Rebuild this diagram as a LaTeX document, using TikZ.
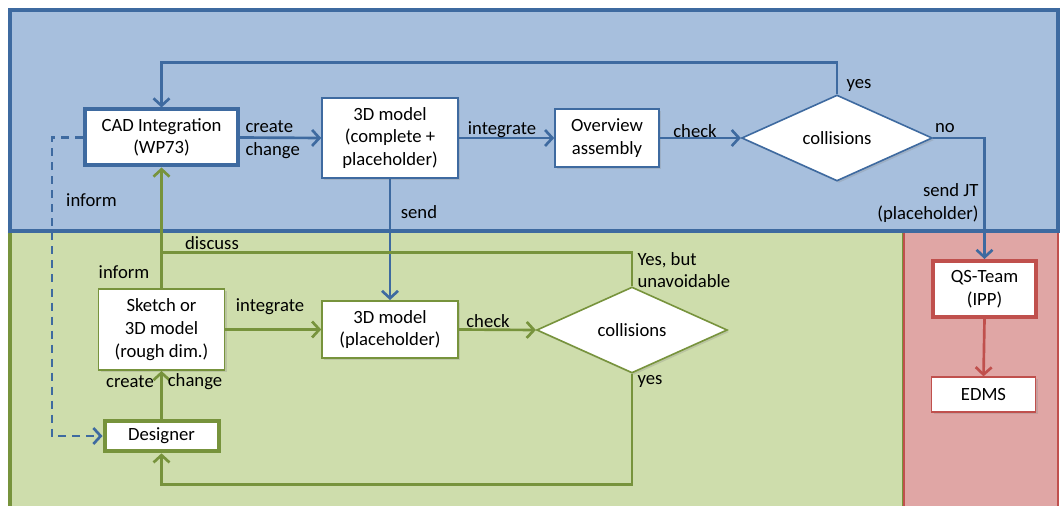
\documentclass[tikz,border=0pt]{standalone}
\usepackage{fontspec}
\setmainfont{Carlito}
\usetikzlibrary{shapes.geometric,arrows.meta,shadows}

\definecolor{bluefill}{RGB}{167,191,221}
\definecolor{blueline}{RGB}{62,106,160}
\definecolor{greenfill}{RGB}{206,221,172}
\definecolor{greenline}{RGB}{119,147,60}
\definecolor{redfill}{RGB}{224,166,165}
\definecolor{redline}{RGB}{192,80,77}

\tikzset{
	every picture/.style={line width=0.75pt},
	txt/.style={font=\fontsize{14pt}{17pt}\selectfont, inner sep=0pt, align=center},
	box/.style={txt, rectangle, fill=white, line width=1.2pt,
		drop shadow={opacity=0.25, shadow xshift=1.5pt, shadow yshift=-1.5pt}},
	thickbox/.style={box, line width=3pt},
	decision/.style={txt, diamond, fill=white, line width=1.2pt, aspect=2.2,
		minimum width=143pt, minimum height=64.5pt,
		drop shadow={opacity=0.25, shadow xshift=1.5pt, shadow yshift=-1.5pt}},
	flow/.style={line width=2pt, -{Straight Barb[length=5.5pt,width=12pt,line width=2pt]}},
	link/.style={line width=2pt}
}

\begin{document}
\begin{tikzpicture}[x=0.75pt,y=0.75pt,yscale=-1,xscale=1]
	\useasboundingbox (0,0) rectangle (1061,506);

	%Shape: Rectangle [green area]
	\draw [draw=greenline, line width=2.4pt, fill=greenfill] (10,231) -- (904,231) -- (904,520) -- (10,520) -- cycle ;
	%Shape: Rectangle [red area]
	\draw [draw=redline, line width=1.2pt, fill=redfill] (904,231) -- (1058,231) -- (1058,520) -- (904,520) -- cycle ;
	%Shape: Rectangle [blue area]
	\draw [draw=blueline, line width=2.4pt, fill=bluefill] (10,10) -- (1058,10) -- (1058,231) -- (10,231) -- cycle ;

	% Nodes
	\node (cad) at (161.5,137.5) [thickbox, draw=blueline, minimum width=115pt, minimum height=42pt] {CAD Integration\\(WP73)};
	\node (model1) at (390,138) [box, draw=blueline, minimum width=102pt, minimum height=60pt] {3D model\\(complete +\\placeholder)};
	\node (overview) at (607,138) [box, draw=blueline, minimum width=78pt, minimum height=43.5pt] {Overview\\assembly};
	\node (coll1) at (837,138) [decision, draw=blueline] {collisions};
	\node (qs) at (984.5,289) [thickbox, draw=redline, minimum width=77pt, minimum height=42pt] {QS-Team\\(IPP)};
	\node (edms) at (983.5,394.5) [box, draw=redline, minimum width=78pt, minimum height=26pt] {EDMS};
	\node (sketch) at (161.5,329.5) [box, draw=greenline, minimum width=94.5pt, minimum height=61pt] {Sketch or\\3D model\\(rough dim.)};
	\node (model2) at (390,329.5) [box, draw=greenline, minimum width=102pt, minimum height=43pt] {3D model\\(placeholder)};
	\node (coll2) at (632,330) [decision, draw=greenline] {collisions};
	\node (designer) at (161.5,436) [thickbox, draw=greenline, minimum width=85.5pt, minimum height=23pt] {Designer};

	%Straight Lines [blue]
	\draw [flow, blueline] (coll1.north) -- ++(0,-32) -| (cad.north) ;
	\draw [flow, blueline] (cad.east) -- (model1.west) ;
	\draw [flow, blueline] (model1.east) -- (overview.west) ;
	\draw [flow, blueline] (overview.east) -- (coll1.west) ;
	\draw [flow, blueline] (coll1.east) -| (qs.north) ;
	\draw [flow, blueline] (model1.south) -- (model2.north) ;
	\draw [flow, blueline, dash pattern={on 6pt off 4.5pt}] (cad.west) -- ++(-31,0) |- (designer.west) ;
	%Straight Lines [red]
	\draw [flow, redline] (qs.south) -- (edms.north) ;
	%Straight Lines [green]
	\draw [flow, greenline] (sketch.north) -- (cad.south) ;
	\draw [link, greenline] (coll2.north) -- ++(0,-34) -| (sketch.north) ;
	\draw [flow, greenline] (sketch.east) -- (model2.west) ;
	\draw [flow, greenline] (model2.east) -- (coll2.west) ;
	\draw [flow, greenline] (designer.north) -- (sketch.south) ;
	\draw [flow, greenline] (coll2.south) -- ++(0,111) -| (designer.south) ;

	% Text Node
	\node (lcreate1) at (245,139.5) [txt, anchor=west, align=left] {create\\change};
	% Text Node
	\node (lint1) at (502,130) [txt] {integrate};
	% Text Node
	\node (lcheck1) at (695,131) [txt] {check};
	% Text Node
	\node (lyes1) at (859,85) [txt] {yes};
	% Text Node
	\node (lno) at (945,128) [txt] {no};
	% Text Node
	\node (lsendjt) at (979,203) [txt, anchor=east, align=right] {send JT\\(placeholder)};
	% Text Node
	\node (lsend) at (419,212) [txt] {send};
	% Text Node
	\node (linform1) at (91.5,200) [txt] {inform};
	% Text Node
	\node (ldiscuss) at (212,243) [txt] {discuss};
	% Text Node
	\node (linform2) at (124,272) [txt] {inform};
	% Text Node
	\node (lint2) at (270,307) [txt] {integrate};
	% Text Node
	\node (lcheck2) at (488,321) [txt] {check};
	% Text Node
	\node (lunavoid) at (637,270) [txt, anchor=west, align=left] {Yes, but\\unavoidable};
	% Text Node
	\node (lcreate2) at (130,382) [txt] {create};
	% Text Node
	\node (lchange2) at (195,382) [txt] {change};
	% Text Node
	\node (lyes2) at (650,381) [txt] {yes};

\end{tikzpicture}
\end{document}
